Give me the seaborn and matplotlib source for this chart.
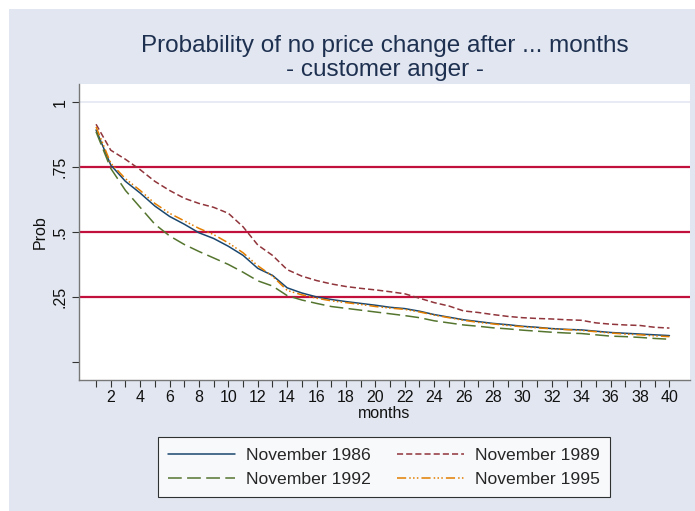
import numpy as np
import pandas as pd
import matplotlib
matplotlib.use("Agg")
import matplotlib.pyplot as plt
import seaborn as sns
from matplotlib.patches import Rectangle
from matplotlib.lines import Line2D

months = list(range(1, 41))
nov1986 = [0.893, 0.758, 0.695, 0.650, 0.600, 0.560, 0.530, 0.497, 0.475, 0.445,
           0.410, 0.360, 0.333, 0.285, 0.265, 0.250, 0.240, 0.232, 0.225, 0.218,
           0.210, 0.205, 0.195, 0.182, 0.172, 0.162, 0.155, 0.148, 0.143, 0.137,
           0.133, 0.128, 0.125, 0.123, 0.118, 0.113, 0.110, 0.107, 0.104, 0.101]
nov1989 = [0.915, 0.815, 0.780, 0.740, 0.695, 0.660, 0.630, 0.610, 0.595, 0.572,
           0.520, 0.450, 0.410, 0.355, 0.330, 0.313, 0.300, 0.290, 0.283, 0.277,
           0.270, 0.262, 0.245, 0.228, 0.215, 0.196, 0.190, 0.182, 0.175, 0.170,
           0.167, 0.165, 0.162, 0.160, 0.150, 0.145, 0.142, 0.140, 0.133, 0.130]
nov1992 = [0.886, 0.745, 0.660, 0.595, 0.530, 0.485, 0.452, 0.425, 0.400, 0.375,
           0.345, 0.312, 0.292, 0.255, 0.238, 0.225, 0.213, 0.206, 0.199, 0.192,
           0.185, 0.178, 0.170, 0.158, 0.150, 0.142, 0.137, 0.131, 0.127, 0.122,
           0.118, 0.114, 0.111, 0.109, 0.104, 0.099, 0.097, 0.094, 0.090, 0.087]
nov1995 = [0.905, 0.765, 0.705, 0.660, 0.610, 0.572, 0.543, 0.514, 0.490, 0.458,
           0.420, 0.370, 0.330, 0.275, 0.258, 0.245, 0.235, 0.228, 0.221, 0.213,
           0.207, 0.202, 0.192, 0.180, 0.170, 0.160, 0.152, 0.146, 0.140, 0.135,
           0.131, 0.127, 0.124, 0.121, 0.116, 0.111, 0.107, 0.104, 0.100, 0.097]
series_names = ["November 1986", "November 1989", "November 1992", "November 1995"]
ref_lines = [0.25, 0.5, 0.75]
y_ticks = [0, 0.25, 0.5, 0.75, 1]
y_tick_labels = ["", ".25", ".5", ".75", "1"]

df = pd.DataFrame({"months": months, series_names[0]: nov1986, series_names[1]: nov1989,
                   series_names[2]: nov1992, series_names[3]: nov1995})
long = df.melt(id_vars="months", var_name="series", value_name="Prob")

sns.set_theme(style="white")
plt.rcParams['font.family'] = ['Liberation Sans', 'DejaVu Sans']

bg = "#e1e6f0"
fig = plt.figure(figsize=(6.95, 5.11), dpi=100)
fig.patch.set_facecolor("white")
fig.patches.append(Rectangle((9/695, 0), 1 - 9/695, 1 - 9/511, transform=fig.transFigure,
                             facecolor=bg, edgecolor="none", zorder=-10))

ax = fig.add_axes([79/695, 1 - 380/511, (690 - 79)/695, (380 - 84)/511])
ax.set_facecolor("white")

palette = {series_names[0]: "#1a476f", series_names[1]: "#90353b",
           series_names[2]: "#55752f", series_names[3]: "#e37e00"}
dashes = {series_names[0]: "",
          series_names[1]: (4, 2),
          series_names[2]: (9, 3.5),
          series_names[3]: (6, 2, 1, 1.5, 1, 1.5, 1, 2)}

for yv in ref_lines:
    ax.axhline(yv, color="#c1103c", lw=1.6, zorder=1)
ax.axhline(1, color="#e4e8f2", lw=1.2, zorder=0.5)

sns.lineplot(data=long, x="months", y="Prob", hue="series", style="series",
             palette=palette, dashes=dashes, lw=1.1, ax=ax, legend=False, zorder=3,
             hue_order=series_names, style_order=series_names)

ax.set_xlim(-0.16, 41.4)
ax.set_ylim(-0.07, 1.07)
ax.set_xticks(months)
ax.set_xticklabels([str(m) if m % 2 == 0 else "" for m in months], fontsize=11.5)
ax.set_yticks(y_ticks)
ax.set_yticklabels(y_tick_labels, fontsize=11.5, rotation=90, va="center")
ax.tick_params(axis="both", which="major", length=5, width=0.8, color="#333333",
               bottom=True, left=True, pad=3, colors="#111111")
ax.tick_params(axis="x", pad=2)
for s in ["top", "right"]:
    ax.spines[s].set_visible(False)
for s in ["left", "bottom"]:
    ax.spines[s].set_color("#777777")
    ax.spines[s].set_linewidth(1.0)

ax.set_xlabel("months", fontsize=11.5, labelpad=1, color="#111111")
ax.set_ylabel("Prob", fontsize=11.5, labelpad=4, color="#111111")

fig.text(385/695, 1 - 52/511, "Probability of no price change after ... months",
         ha="center", va="baseline", fontsize=17.5, color="#1e3050")
fig.text(385/695, 1 - 76/511, "- customer anger -",
         ha="center", va="baseline", fontsize=17.5, color="#1e3050")

def make_handle(n):
    if dashes[n]:
        return Line2D([], [], color=palette[n], lw=1.1, linestyle=(0, dashes[n]))
    return Line2D([], [], color=palette[n], lw=1.1, linestyle="-")

order = [series_names[0], series_names[2], series_names[1], series_names[3]]
leg = fig.legend([make_handle(n) for n in order], order, ncol=2, loc="center",
                 bbox_to_anchor=(384/695, 1 - 467/511), frameon=True, fontsize=12.6,
                 handlelength=3.8, columnspacing=1.5, handletextpad=0.63,
                 borderpad=0.6, labelspacing=0.5, fancybox=False, borderaxespad=0)
leg.get_frame().set_edgecolor("black")
leg.get_frame().set_linewidth(0.8)
leg.get_frame().set_facecolor("white")

fig.savefig("out.png", dpi=100, facecolor=fig.get_facecolor())
